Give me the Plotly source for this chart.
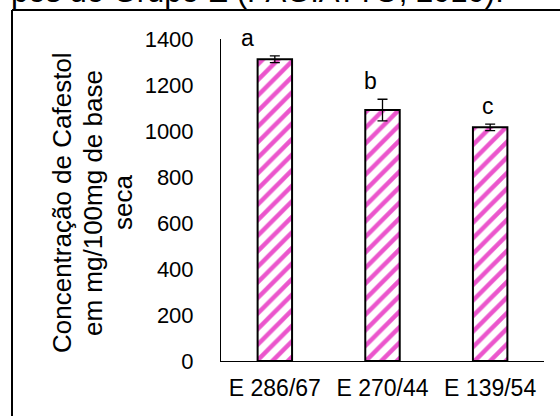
import plotly.graph_objects as go

# Cafestol content per genotype (mg/100 mg dry basis)
genotypes = ["E 286/67", "E 270/44", "E 139/54"]
cafestol = [1312, 1091, 1016]
std_dev = [15, 47, 14]
letters = ["a", "b", "c"]
y_ticks = [0, 200, 400, 600, 800, 1000, 1200, 1400]
y_title_lines = ["Concentração de Cafestol", "em mg/100mg de base", "seca"]

# horizontal nudge of the significance letters (category units)
letter_dx = [-0.25, -0.11, -0.02]
# x pixel centre of each line of the y-axis title
title_line_x = [62, 93, 123]

FONT = "Liberation Sans, Arial, sans-serif"
PINK = "#EB55CC"

W, H = 560, 416
L, R, T, B = 221, 16, 39, 55
pw, ph = W - L - R, H - T - B


def px_x(px):
    return (px - L) / pw


def px_y(py):
    return (H - B - py) / ph


xpos = list(range(len(genotypes)))

fig = go.Figure()
fig.add_trace(go.Bar(
    x=xpos,
    y=cafestol,
    width=0.32,
    marker=dict(
        color="white",
        line=dict(color="black", width=2),
        pattern=dict(shape="/", fgcolor=PINK, bgcolor="white",
                     size=11, solidity=0.4, fillmode="replace"),
    ),
    error_y=dict(type="data", array=std_dev, visible=True,
                 color="black", thickness=1.3, width=5),
    showlegend=False,
))

annotations = []
for i, (v, e, t) in enumerate(zip(cafestol, std_dev, letters)):
    annotations.append(dict(
        x=i + letter_dx[i], y=v + e, xref="x", yref="y",
        text=t, showarrow=False, yanchor="bottom", xanchor="center",
        yshift=3, font=dict(family=FONT, size=23, color="black"),
    ))

# y-axis title, one rotated line each
for line, lx in zip(y_title_lines, title_line_x):
    annotations.append(dict(
        x=px_x(lx), y=px_y(203), xref="paper", yref="paper",
        text=line, showarrow=False, textangle=-90,
        xanchor="center", yanchor="middle",
        font=dict(family=FONT, size=26, color="black"),
    ))

# caption line of the surrounding document
annotations.append(dict(
    x=px_x(506), y=px_y(11), xref="paper", yref="paper",
    text="pos do Grupo E (PAGIATTO, 2010).",
    showarrow=False, xanchor="right", yanchor="bottom",
    font=dict(family=FONT, size=31, color="black"),
))

shapes = [
    # frame around the chart
    dict(type="line", xref="paper", yref="paper",
         x0=px_x(12), x1=px_x(600), y0=px_y(10), y1=px_y(10),
         line=dict(color="black", width=2)),
    dict(type="line", xref="paper", yref="paper",
         x0=px_x(12), x1=px_x(12), y0=px_y(10), y1=px_y(450),
         line=dict(color="black", width=2)),
]

fig.update_layout(
    width=W, height=H,
    margin=dict(l=L, r=R, t=T, b=B, pad=0),
    paper_bgcolor="white", plot_bgcolor="white",
    font=dict(family=FONT, size=22, color="black"),
    bargap=0.68,
    annotations=annotations,
    shapes=shapes,
    xaxis=dict(
        tickmode="array", tickvals=xpos, ticktext=genotypes,
        range=[-0.5, 2.5], showline=True, linecolor="black", linewidth=1,
        ticks="", showgrid=False, zeroline=False,
        tickfont=dict(family=FONT, size=23, color="black"),
        ticklabelstandoff=6,
    ),
    yaxis=dict(
        range=[0, 1400], tickvals=y_ticks,
        showline=True, linecolor="black", linewidth=1,
        ticks="", showgrid=False, zeroline=False,
        tickfont=dict(family=FONT, size=22, color="black"),
        ticklabelstandoff=22,
    ),
)

fig.write_html("out.html")
